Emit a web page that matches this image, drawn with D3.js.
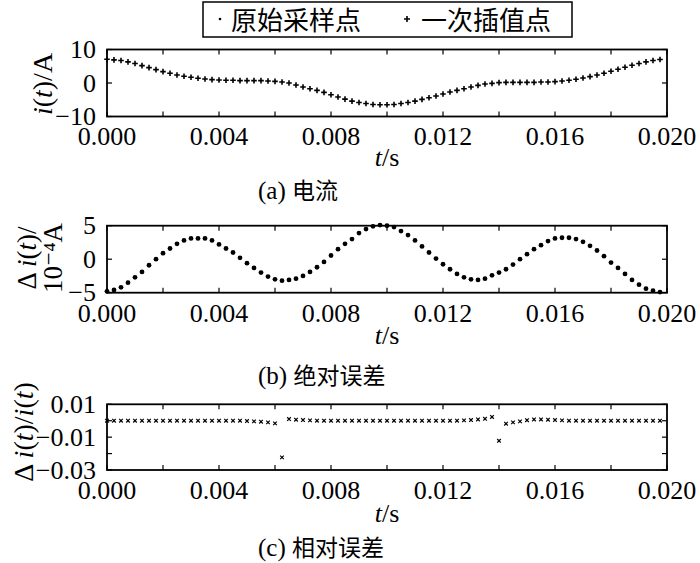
<!DOCTYPE html>
<html>
<head>
<meta charset="utf-8">
<script src="https://cdn.jsdelivr.net/npm/d3@7"></script>
<style>
  body { margin: 0; background: #fff; }
  svg text { font-family: "Liberation Serif", "Times New Roman", "DejaVu Serif", serif; fill: #000; }
  svg text.cjk, svg tspan.cjk { font-family: "Noto Sans CJK SC", sans-serif; }
</style>
</head>
<body>
<div id="chart"></div>
<script>
// sample times (s)
var times = [0.00000, 0.00025, 0.00050, 0.00075, 0.00100, 0.00125, 0.00150, 0.00175, 0.00200, 0.00225,
  0.00250, 0.00275, 0.00300, 0.00325, 0.00350, 0.00375, 0.00400, 0.00425, 0.00450, 0.00475,
  0.00500, 0.00525, 0.00550, 0.00575, 0.00600, 0.00625, 0.00650, 0.00675, 0.00700, 0.00725,
  0.00750, 0.00775, 0.00800, 0.00825, 0.00850, 0.00875, 0.00900, 0.00925, 0.00950, 0.00975,
  0.01000, 0.01025, 0.01050, 0.01075, 0.01100, 0.01125, 0.01150, 0.01175, 0.01200, 0.01225,
  0.01250, 0.01275, 0.01300, 0.01325, 0.01350, 0.01375, 0.01400, 0.01425, 0.01450, 0.01475,
  0.01500, 0.01525, 0.01550, 0.01575, 0.01600, 0.01625, 0.01650, 0.01675, 0.01700, 0.01725,
  0.01750, 0.01775, 0.01800, 0.01825, 0.01850, 0.01875, 0.01900, 0.01925, 0.01950, 0.01975];

// (a) current i(t), A
var current = [7.1, 6.9, 6.7, 6.3, 5.8, 5.2, 4.6, 4.0, 3.4, 2.9,
  2.4, 2.0, 1.7, 1.4, 1.2, 1.0, 0.9, 0.8, 0.8, 0.7,
  0.7, 0.7, 0.7, 0.6, 0.5, 0.3, 0.0, -0.6, -1.2, -1.7,
  -2.2, -2.8, -3.5, -4.2, -4.8, -5.4, -5.8, -6.1, -6.4, -6.5,
  -6.5, -6.4, -6.1, -5.8, -5.4, -4.9, -4.4, -3.9, -3.3, -2.7,
  -2.2, -1.7, -1.2, -0.7, -0.3, -0.1, 0.1, 0.2, 0.2, 0.2,
  0.2, 0.2, 0.3, 0.3, 0.4, 0.6, 0.8, 1.1, 1.5, 1.9,
  2.4, 2.9, 3.5, 4.1, 4.7, 5.3, 5.8, 6.3, 6.7, 7.0];

// (b) absolute error, 1e-4 A
var absErr = [-4.8, -4.6, -4.2, -3.5, -2.7, -1.9, -0.9, 0.0, 0.9, 1.6,
  2.3, 2.8, 3.1, 3.1, 3.1, 2.8, 2.2, 1.6, 1.0, 0.2,
  -0.6, -1.3, -2.0, -2.6, -3.0, -3.2, -3.1, -2.9, -2.5, -1.9,
  -1.2, -0.4, 0.55, 1.5, 2.3, 3.0, 3.9, 4.5, 4.9, 5.1,
  5.0, 4.8, 4.2, 3.6, 2.8, 1.9, 1.0, 0.1, -0.75, -1.5,
  -2.2, -2.7, -3.0, -3.1, -2.9, -2.4, -2.0, -1.5, -0.8, 0.0,
  0.75, 1.5, 2.1, 2.7, 3.1, 3.2, 3.2, 3.0, 2.6, 2.0,
  1.3, 0.45, -0.5, -1.3, -2.2, -3.1, -3.8, -4.4, -4.7, -4.9];

// (c) relative error
var relErr = [0, 0, 0, 0, 0, 0, 0, 0, 0, 0,
  0, 0, 0, 0, 0, 0, 0, 0, 0, 0,
  -0.0002, -0.0004, -0.0006, -0.001, -0.0016, -0.0223, 0.001, 0.0006, 0.0004, 0.0002,
  0, 0, 0, 0, 0, 0, 0, 0, 0, 0,
  0, 0, 0, 0, 0, 0, 0, 0, 0, 0,
  0, 0.0002, 0.0004, 0.0008, 0.0012, 0.0023, -0.0122, -0.0018, -0.001, -0.0004,
  0.0003, 0.0008, 0.0008, 0.0006, 0.0004, 0.0002, 0, 0, 0, 0,
  0, 0, 0, 0, 0, 0, 0, 0, 0, 0];

var xTicks = [0, 0.002, 0.004, 0.006, 0.008, 0.010, 0.012, 0.014, 0.016, 0.018, 0.020];
var xLabels = [0, 0.004, 0.008, 0.012, 0.016, 0.020];
var legendNames = ["原始采样点", "一次插值点"];
var captions = [["(a) ", "电流"], ["(b) ", "绝对误差"], ["(c) ", "相对误差"]];

var W = 700, H = 563;
var svg = d3.select("#chart").append("svg").attr("width", W).attr("height", H);

var x = d3.scaleLinear().domain([0, 0.02]).range([107, 667]);

function minus(s) { return String(s).replace("-", "\u2212"); }

var panels = [
  { values: current, domain: [-10, 10], range: [116.5, 49.5], ticks: [-10, 0, 10], labels: [-10, 0, 10],
    fmt: function(d) { return minus(d); }, marker: "plus",
    xlabY: 145, tY: 166, capY: 199 },
  { values: absErr, domain: [-5, 5], range: [292.7, 225.7], ticks: [-5, 0, 5], labels: [-5, 0, 5],
    fmt: function(d) { return minus(d); }, marker: "dot",
    xlabY: 322, tY: 344, capY: 384 },
  { values: relErr, domain: [-0.03, 0.01], range: [470, 404.3], ticks: [-0.03, -0.02, -0.01, 0, 0.01], labels: [-0.03, -0.01, 0.01],
    fmt: function(d) { return minus(d.toFixed(2)); }, marker: "cross",
    xlabY: 499, tY: 522, capY: 556 }
];

panels.forEach(function(p, k) {
  var y = d3.scaleLinear().domain(p.domain).range(p.range);
  var g = svg.append("g");

  // tick marks, inward on all four sides
  var tl = 5;
  xTicks.forEach(function(t) {
    g.append("line").attr("x1", x(t)).attr("x2", x(t)).attr("y1", p.range[0]).attr("y2", p.range[0] - tl)
      .attr("stroke", "#000").attr("stroke-width", 1.2);
    g.append("line").attr("x1", x(t)).attr("x2", x(t)).attr("y1", p.range[1]).attr("y2", p.range[1] + tl)
      .attr("stroke", "#000").attr("stroke-width", 1.2);
  });
  p.ticks.forEach(function(v) {
    g.append("line").attr("x1", 107).attr("x2", 107 + tl).attr("y1", y(v)).attr("y2", y(v))
      .attr("stroke", "#000").attr("stroke-width", 1.2);
    g.append("line").attr("x1", 667).attr("x2", 667 - tl).attr("y1", y(v)).attr("y2", y(v))
      .attr("stroke", "#000").attr("stroke-width", 1.2);
  });

  // frame
  g.append("rect").attr("x", 107).attr("y", p.range[1])
    .attr("width", 560).attr("height", p.range[0] - p.range[1])
    .attr("fill", "none").attr("stroke", "#000").attr("stroke-width", 1.8);

  // tick labels
  xLabels.forEach(function(t) {
    g.append("text").attr("x", x(t)).attr("y", p.xlabY).attr("text-anchor", "middle")
      .attr("font-size", 26).text(t.toFixed(3));
  });
  p.labels.forEach(function(v) {
    g.append("text").attr("x", 96).attr("y", y(v)).attr("dy", "0.33em").attr("text-anchor", "end")
      .attr("font-size", 26).text(p.fmt(v));
  });

  // x title
  var xt = g.append("text").attr("x", 387).attr("y", p.tY).attr("text-anchor", "middle").attr("font-size", 26);
  xt.append("tspan").attr("font-style", "italic").text("t");
  xt.append("tspan").text("/s");

  // caption
  var ct = g.append("text").attr("x", 258).attr("y", p.capY).attr("font-size", 25);
  ct.append("tspan").text(captions[k][0]);
  ct.append("tspan").attr("class", "cjk").attr("font-size", 23).text(captions[k][1]);

  // markers
  var pts = g.selectAll(".pt" + k).data(p.values).enter().append("g")
    .attr("transform", function(d, i) { return "translate(" + x(times[i]) + "," + y(d) + ")"; });
  if (p.marker == "plus") {
    pts.append("path").attr("d", "M-2.8,0H2.8M0,-2.8V2.8").attr("stroke", "#000").attr("stroke-width", 1.6);
  } else if (p.marker == "dot") {
    pts.append("circle").attr("r", 2.4).attr("fill", "#000");
  } else {
    pts.append("path").attr("d", "M-1.8,-1.8L1.8,1.8M-1.8,1.8L1.8,-1.8").attr("stroke", "#000").attr("stroke-width", 1.2);
  }
});

// y titles (rotated)
function yTitle(cx, cy, size, parts) {
  var t = svg.append("text").attr("transform", "translate(" + cx + "," + cy + ") rotate(-90)")
    .attr("text-anchor", "middle").attr("font-size", size);
  parts.forEach(function(s) {
    var ts = t.append("tspan").text(s[0]);
    if (s[1]) ts.attr("font-style", "italic");
  });
  return t;
}
yTitle(52, 84, 28, [["i", 1], ["(", 0], ["t", 1], [")/A", 0]]);
yTitle(36, 258, 27, [["\u0394 ", 0], ["i", 1], ["(", 0], ["t", 1], [")/", 0]]);
yTitle(62, 258, 27, [["10\u207B\u2074A", 0]]);
yTitle(33, 432, 28, [["\u0394 ", 0], ["i", 1], ["(", 0], ["t", 1], [")/", 0], ["i", 1], ["(", 0], ["t", 1], [")", 0]]);

// legend
svg.append("rect").attr("x", 203).attr("y", 2).attr("width", 369).attr("height", 35)
  .attr("fill", "#fff").attr("stroke", "#000").attr("stroke-width", 1.5);
svg.append("circle").attr("cx", 220).attr("cy", 19).attr("r", 1.3).attr("fill", "#000");
svg.append("text").attr("class", "cjk").attr("x", 231).attr("y", 30).attr("font-size", 26).text(legendNames[0]);
svg.append("path").attr("d", "M404,19H410M407,16V22").attr("stroke", "#000").attr("stroke-width", 1.6);
svg.append("text").attr("class", "cjk").attr("x", 421).attr("y", 30).attr("font-size", 26).text(legendNames[1]);
</script>
</body>
</html>
